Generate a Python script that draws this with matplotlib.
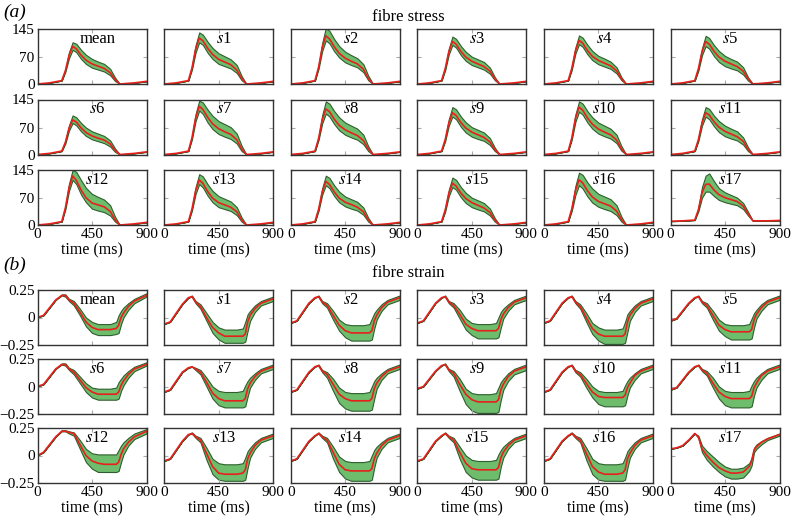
import numpy as np
import matplotlib
matplotlib.use("Agg")
import matplotlib.pyplot as plt

plt.rcParams['font.family'] = ['Liberation Serif', 'DejaVu Serif']
plt.rcParams['mathtext.fontset'] = 'stix'

labels = ['mean'] + [r'$s$%d' % i for i in range(1, 18)]

# fibre stress
t_stress = [0, 100, 200, 230, 260, 290, 320, 360, 400, 450, 500, 550, 600, 640, 680, 800, 900]

stress_mean = [
    [0, 3, 9, 35, 75, 99, 93, 76, 63, 53, 47, 41, 30, 12, 0, 3, 7],
    [0, 3, 9, 42, 92, 121, 114, 94, 78, 65, 58, 51, 37, 15, 0, 3, 7],
    [0, 3, 9, 44, 96, 127, 119, 98, 81, 68, 60, 53, 39, 15, 0, 3, 7],
    [0, 3, 9, 40, 85, 112, 105, 86, 71, 60, 53, 46, 34, 14, 0, 3, 7],
    [0, 3, 9, 41, 87, 115, 108, 88, 73, 62, 55, 48, 35, 14, 0, 3, 7],
    [0, 3, 9, 40, 85, 112, 105, 86, 71, 60, 53, 46, 34, 14, 0, 3, 7],
    [0, 3, 9, 32, 69, 91, 86, 70, 58, 49, 43, 38, 28, 11, 0, 3, 7],
    [0, 3, 9, 44, 96, 127, 119, 98, 81, 68, 60, 53, 39, 15, 0, 3, 7],
    [0, 3, 9, 42, 91, 120, 113, 93, 77, 65, 57, 50, 37, 15, 0, 3, 7],
    [0, 3, 9, 39, 83, 110, 103, 84, 70, 59, 52, 45, 33, 13, 0, 3, 7],
    [0, 3, 9, 43, 95, 125, 117, 96, 80, 67, 59, 52, 38, 15, 0, 3, 7],
    [0, 3, 9, 39, 83, 110, 104, 86, 72, 61, 54, 47, 35, 14, 0, 3, 7],
    [0, 3, 9, 45, 98, 129, 118, 92, 72, 58, 53, 48, 36, 14, 0, 3, 7],
    [0, 3, 9, 42, 90, 119, 110, 88, 71, 59, 53, 47, 35, 14, 0, 3, 7],
    [0, 3, 9, 41, 87, 115, 107, 87, 71, 60, 54, 47, 35, 14, 0, 3, 7],
    [0, 3, 9, 39, 83, 110, 103, 84, 70, 59, 52, 45, 33, 13, 0, 3, 7],
    [0, 3, 9, 42, 90, 119, 111, 90, 74, 62, 56, 50, 37, 15, 0, 3, 7],
    [10, 11, 13, 40, 85, 107, 108, 92, 80, 72, 67, 62, 50, 30, 11, 11, 12],
]
stress_hi = [
    [0, 3, 9, 38, 84, 110, 106, 90, 77, 66, 59, 53, 40, 17, 0, 3, 7],
    [0, 3, 9, 46, 102, 136, 130, 111, 95, 81, 73, 65, 50, 21, 0, 3, 7],
    [0, 3, 9, 48, 108, 148, 140, 118, 100, 85, 76, 68, 52, 22, 0, 3, 7],
    [0, 3, 9, 43, 93, 125, 119, 100, 85, 72, 65, 58, 43, 18, 0, 3, 7],
    [0, 3, 9, 44, 96, 128, 122, 103, 87, 74, 67, 59, 44, 18, 0, 3, 7],
    [0, 3, 9, 43, 94, 127, 121, 102, 87, 74, 66, 59, 44, 18, 0, 3, 7],
    [0, 3, 9, 35, 77, 103, 98, 83, 71, 61, 55, 49, 37, 16, 0, 3, 7],
    [0, 3, 9, 48, 107, 142, 137, 118, 102, 88, 80, 72, 55, 23, 0, 3, 7],
    [0, 3, 9, 47, 104, 140, 134, 114, 98, 84, 76, 68, 52, 22, 0, 3, 7],
    [0, 3, 9, 43, 93, 125, 119, 100, 85, 72, 65, 58, 43, 18, 0, 3, 7],
    [0, 3, 9, 47, 105, 140, 134, 114, 98, 84, 76, 68, 52, 22, 0, 3, 7],
    [0, 3, 9, 43, 93, 125, 120, 102, 88, 76, 68, 61, 45, 19, 0, 3, 7],
    [0, 3, 9, 49, 109, 145, 140, 118, 98, 82, 74, 67, 52, 22, 0, 3, 7],
    [0, 3, 9, 46, 100, 134, 128, 107, 90, 76, 69, 62, 47, 20, 0, 3, 7],
    [0, 3, 9, 45, 97, 130, 124, 104, 88, 75, 68, 61, 46, 19, 0, 3, 7],
    [0, 3, 9, 43, 93, 125, 119, 100, 85, 72, 65, 58, 43, 18, 0, 3, 7],
    [0, 3, 9, 47, 103, 138, 132, 112, 96, 82, 75, 68, 52, 22, 0, 3, 7],
    [10, 11, 13, 45, 100, 130, 136, 115, 97, 86, 79, 72, 58, 35, 11, 11, 12],
]
stress_lo = [
    [0, 3, 9, 32, 68, 90, 84, 66, 53, 43, 38, 33, 23, 8, 0, 3, 7],
    [0, 3, 9, 38, 83, 110, 103, 82, 66, 53, 47, 41, 29, 10, 0, 3, 7],
    [0, 3, 9, 40, 87, 115, 107, 86, 70, 57, 50, 44, 31, 10, 0, 3, 7],
    [0, 3, 9, 36, 78, 103, 96, 76, 61, 50, 44, 38, 27, 10, 0, 3, 7],
    [0, 3, 9, 37, 80, 105, 98, 78, 63, 52, 46, 40, 28, 10, 0, 3, 7],
    [0, 3, 9, 35, 76, 100, 93, 73, 58, 47, 41, 36, 25, 9, 0, 3, 7],
    [0, 3, 9, 29, 63, 83, 77, 61, 49, 40, 35, 30, 21, 7, 0, 3, 7],
    [0, 3, 9, 40, 88, 116, 107, 84, 67, 54, 47, 41, 29, 9, 0, 3, 7],
    [0, 3, 9, 38, 82, 108, 100, 80, 64, 52, 45, 39, 27, 9, 0, 3, 7],
    [0, 3, 9, 35, 76, 100, 93, 73, 58, 47, 41, 36, 25, 9, 0, 3, 7],
    [0, 3, 9, 39, 86, 113, 105, 84, 68, 55, 48, 42, 30, 10, 0, 3, 7],
    [0, 3, 9, 35, 76, 100, 93, 74, 59, 48, 42, 37, 26, 9, 0, 3, 7],
    [0, 3, 9, 41, 90, 119, 108, 80, 60, 43, 38, 34, 25, 9, 0, 3, 7],
    [0, 3, 9, 38, 82, 108, 99, 77, 60, 47, 42, 37, 26, 9, 0, 3, 7],
    [0, 3, 9, 37, 80, 105, 97, 76, 60, 49, 43, 38, 27, 9, 0, 3, 7],
    [0, 3, 9, 35, 76, 100, 93, 73, 58, 47, 41, 36, 25, 9, 0, 3, 7],
    [0, 3, 9, 37, 79, 105, 96, 75, 59, 48, 42, 37, 26, 9, 0, 3, 7],
    [10, 11, 13, 36, 72, 88, 88, 76, 66, 60, 56, 52, 42, 25, 11, 11, 12],
]

# fibre strain, in hundredths
t_strain = [0, 50, 100, 150, 200, 230, 260, 300, 350, 400, 450, 500, 550, 600, 650, 670, 690, 710, 750, 800, 900]

strain_mean = [
    [0, 2, 9, 16, 20, 20, 16, 13, 5, -4, -9, -11, -11, -11, -10, -7, 0, 4, 10, 15, 20],
    [-6, -4, 4, 12, 18, 19, 14, 10, 0, -9, -14, -17, -17, -17, -17, -15, -4, 2, 8, 13, 17],
    [-5, -3, 5, 13, 18, 19, 14, 11, 2, -7, -12, -14, -14, -14, -14, -12, -3, 2, 9, 14, 18],
    [-5, -3, 5, 13, 18, 19, 14, 11, 3, -6, -10, -12, -12, -12, -12, -10, -2, 3, 9, 14, 18],
    [-5, -3, 5, 13, 18, 19, 14, 10, 0, -10, -15, -17, -17, -17, -17, -15, -4, 2, 8, 13, 17],
    [-3, -1, 6, 13, 18, 19, 14, 11, 2, -7, -11, -13, -13, -13, -13, -11, -2, 3, 9, 14, 18],
    [0, 2, 9, 16, 20, 20, 16, 13, 6, -1, -5, -7, -7, -7, -7, -5, 1, 5, 11, 16, 20],
    [-5, -3, 5, 13, 17, 18, 16, 13, 4, -6, -11, -13, -13, -13, -13, -11, -2, 3, 9, 14, 18],
    [-5, -3, 5, 13, 18, 19, 14, 11, 2, -7, -11, -13, -13, -13, -13, -11, -2, 3, 9, 14, 18],
    [-2, 0, 7, 14, 19, 20, 15, 12, 2, -7, -12, -14, -14, -14, -14, -12, -3, 2, 9, 14, 18],
    [-5, -3, 5, 13, 18, 19, 14, 11, 3, -5, -9, -10, -10, -10, -10, -8, -1, 3, 10, 14, 18],
    [-3, -1, 6, 13, 18, 19, 15, 12, 3, -5, -9, -11, -11, -11, -11, -9, -1, 3, 10, 14, 18],
    [0, 3, 10, 17, 22, 22, 21, 20, 10, 0, -5, -7, -8, -8, -8, -6, 1, 6, 12, 17, 22],
    [-5, -3, 5, 13, 19, 20, 17, 14, 2, -10, -16, -17, -17, -17, -16, -13, -3, 2, 9, 14, 18],
    [-5, -3, 5, 13, 18, 20, 17, 14, 3, -8, -13, -14, -14, -14, -14, -12, -3, 2, 9, 14, 18],
    [-5, -3, 5, 13, 18, 20, 17, 14, 3, -7, -12, -13, -13, -13, -13, -11, -2, 3, 9, 14, 18],
    [-5, -3, 5, 13, 18, 20, 17, 14, 2, -10, -15, -17, -17, -17, -16, -13, -3, 2, 9, 14, 18],
    [6, 7, 9, 14, 20, 17, 6, 0, -6, -11, -14, -16, -16, -15, -10, -5, 5, 8, 12, 15, 19],
]
strain_hi = [
    [0, 2, 9, 16, 21, 21, 17, 15, 8, 0, -4, -6, -6, -6, -4, 2, 6, 9, 13, 17, 22],
    [-6, -4, 4, 12, 18, 20, 15, 12, 4, -4, -9, -11, -11, -11, -10, -4, 3, 6, 11, 15, 19],
    [-5, -3, 5, 13, 18, 20, 15, 13, 6, -2, -6, -7, -7, -7, -6, -1, 4, 7, 12, 16, 20],
    [-5, -3, 5, 13, 18, 20, 15, 13, 7, -1, -5, -6, -6, -6, -5, 0, 5, 8, 12, 16, 20],
    [-5, -3, 5, 13, 18, 20, 15, 12, 4, -5, -9, -11, -11, -11, -10, -4, 3, 6, 11, 15, 19],
    [-3, -1, 6, 13, 18, 20, 15, 13, 6, -2, -6, -7, -7, -7, -6, -1, 4, 7, 12, 16, 20],
    [0, 2, 9, 16, 21, 21, 17, 15, 9, 3, -1, -2, -2, -2, -1, 4, 7, 10, 14, 18, 22],
    [-5, -3, 5, 13, 17, 18, 17, 15, 8, 0, -4, -5, -5, -5, -4, 1, 5, 8, 12, 16, 20],
    [-5, -3, 5, 13, 18, 20, 15, 13, 7, -1, -5, -6, -6, -6, -5, 0, 5, 8, 12, 16, 20],
    [-2, 0, 7, 14, 19, 21, 16, 14, 7, -2, -6, -7, -7, -7, -6, -1, 4, 7, 12, 16, 20],
    [-5, -3, 5, 13, 18, 20, 15, 13, 7, 0, -4, -5, -5, -5, -4, 1, 5, 8, 12, 16, 20],
    [-3, -1, 6, 13, 18, 20, 16, 14, 8, 0, -4, -5, -5, -5, -4, 1, 5, 8, 12, 16, 20],
    [0, 3, 10, 17, 23, 23, 22, 21, 14, 6, 2, 1, 1, 1, 1, 5, 9, 12, 16, 20, 24],
    [-5, -3, 5, 13, 19, 21, 18, 16, 7, -3, -7, -8, -8, -8, -7, -2, 4, 7, 12, 16, 20],
    [-5, -3, 5, 13, 18, 21, 18, 16, 8, -1, -5, -6, -6, -6, -5, 0, 5, 8, 12, 16, 20],
    [-5, -3, 5, 13, 18, 21, 18, 16, 8, 0, -4, -5, -5, -5, -4, 1, 5, 8, 12, 16, 20],
    [-5, -3, 5, 13, 18, 21, 18, 16, 7, -3, -7, -8, -8, -8, -7, -2, 4, 7, 12, 16, 20],
    [6, 7, 9, 14, 20, 18, 9, 4, -1, -6, -10, -12, -12, -11, -7, -2, 7, 10, 13, 16, 20],
]
strain_lo = [
    [0, 2, 9, 16, 20, 19, 15, 11, 2, -8, -14, -16, -16, -16, -15, -14, -6, 0, 7, 13, 19],
    [-6, -4, 4, 12, 18, 19, 13, 8, -3, -14, -20, -23, -23, -23, -23, -22, -12, -3, 5, 11, 15],
    [-5, -3, 5, 13, 18, 19, 13, 9, -2, -12, -18, -21, -21, -21, -21, -20, -10, -2, 6, 12, 16],
    [-5, -3, 5, 13, 18, 19, 13, 9, -1, -11, -16, -19, -19, -19, -19, -18, -9, -1, 6, 12, 16],
    [-5, -3, 5, 13, 18, 19, 13, 8, -4, -15, -21, -24, -24, -24, -24, -23, -13, -3, 5, 11, 15],
    [-3, -1, 6, 13, 18, 19, 13, 9, -2, -12, -17, -20, -20, -20, -20, -19, -9, -1, 6, 12, 16],
    [0, 2, 9, 16, 20, 19, 15, 11, 3, -5, -10, -12, -12, -12, -12, -11, -4, 1, 8, 14, 19],
    [-5, -3, 5, 13, 17, 18, 15, 11, 0, -11, -17, -19, -19, -19, -19, -18, -9, -1, 6, 12, 16],
    [-5, -3, 5, 13, 18, 19, 13, 8, -4, -15, -20, -22, -22, -22, -22, -21, -11, -2, 6, 12, 16],
    [-2, 0, 7, 14, 19, 20, 14, 9, -4, -16, -22, -24, -24, -24, -24, -23, -12, -3, 5, 11, 15],
    [-5, -3, 5, 13, 18, 19, 13, 9, -1, -10, -16, -18, -18, -18, -18, -17, -8, -1, 6, 12, 16],
    [-3, -1, 6, 13, 18, 19, 14, 10, -1, -11, -17, -19, -19, -19, -19, -18, -8, -1, 6, 12, 16],
    [0, 3, 10, 17, 22, 22, 20, 18, 6, -6, -12, -15, -15, -15, -15, -14, -6, 1, 9, 15, 20],
    [-5, -3, 5, 13, 19, 20, 16, 12, -4, -17, -22, -23, -23, -23, -23, -22, -11, -2, 6, 12, 16],
    [-5, -3, 5, 13, 18, 20, 16, 12, -3, -15, -21, -23, -23, -23, -23, -22, -11, -2, 6, 12, 16],
    [-5, -3, 5, 13, 18, 20, 16, 12, -3, -15, -20, -22, -22, -22, -22, -21, -10, -2, 6, 12, 16],
    [-5, -3, 5, 13, 18, 20, 16, 12, -4, -17, -22, -23, -23, -23, -23, -22, -11, -2, 6, 12, 16],
    [6, 7, 9, 14, 20, 16, 3, -4, -10, -15, -19, -21, -21, -20, -14, -9, 3, 6, 10, 14, 18],
]

W, H = 792, 518
fig = plt.figure(figsize=(W / 100, H / 100), dpi=100)

col_left = [37.5 + 126.6 * c for c in range(6)]
ax_w, ax_h = 109, 55
stress_tops = [29, 99.5, 170]
strain_tops = [290, 359, 428]

band_col = '#6dbd6d'
edge_col = '#2e5e2e'
line_col = '#e8201c'


def make_axes(top, c):
    return fig.add_axes([col_left[c] / W, 1 - (top + ax_h) / H, ax_w / W, ax_h / H])


def style(ax, r, c, ylim, yticks, yticklabels):
    ax.set_xlim(0, 900)
    ax.set_ylim(*ylim)
    ax.set_xticks([0, 450, 900])
    ax.set_yticks(yticks)
    ax.tick_params(direction='in', length=3, width=0.8, color='#aaaaaa',
                   top=True, right=True, labelsize=11, pad=2)
    if c == 0:
        ax.set_yticklabels(yticklabels)
    else:
        ax.set_yticklabels([])
    if r == 2:
        ax.set_xticklabels(['0', '450', '900'])
        ax.set_xlabel('time (ms)', fontsize=11.5, labelpad=1)
    else:
        ax.set_xticklabels([])
    for sp in ax.spines.values():
        sp.set_color('#333333')
        sp.set_linewidth(1.0)


for k in range(18):
    r, c = divmod(k, 6)
    ax = make_axes(stress_tops[r], c)
    ax.fill_between(t_stress, stress_lo[k], stress_hi[k], facecolor=band_col,
                    edgecolor=edge_col, linewidth=0.8)
    ax.plot(t_stress, stress_mean[k], color=line_col, lw=1.2)
    ax.text(0.55, 0.97, labels[k], transform=ax.transAxes, ha='center', va='top', fontsize=12)
    style(ax, r, c, (0, 145), [0, 70, 145], ['0', '70', '145'])

for k in range(18):
    r, c = divmod(k, 6)
    ax = make_axes(strain_tops[r], c)
    lo = np.array(strain_lo[k]) / 100
    hi = np.array(strain_hi[k]) / 100
    ax.fill_between(t_strain, lo, hi, facecolor=band_col, edgecolor=edge_col, linewidth=0.8)
    ax.plot(t_strain, np.array(strain_mean[k]) / 100, color=line_col, lw=1.2)
    ax.text(0.55, 0.97, labels[k], transform=ax.transAxes, ha='center', va='top', fontsize=12)
    style(ax, r, c, (-0.25, 0.25), [-0.25, 0, 0.25], ['\u22120.25', '0', '0.25'])

fig.text(3 / W, 1 - 12 / H, '(a)', style='italic', fontsize=14, va='center')
fig.text(408 / W, 1 - 17 / H, 'fibre stress', fontsize=12, ha='center', va='center')
fig.text(3 / W, 1 - 265 / H, '(b)', style='italic', fontsize=14, va='center')
fig.text(408 / W, 1 - 273 / H, 'fibre strain', fontsize=12, ha='center', va='center')

fig.savefig('out.png', dpi=100)
